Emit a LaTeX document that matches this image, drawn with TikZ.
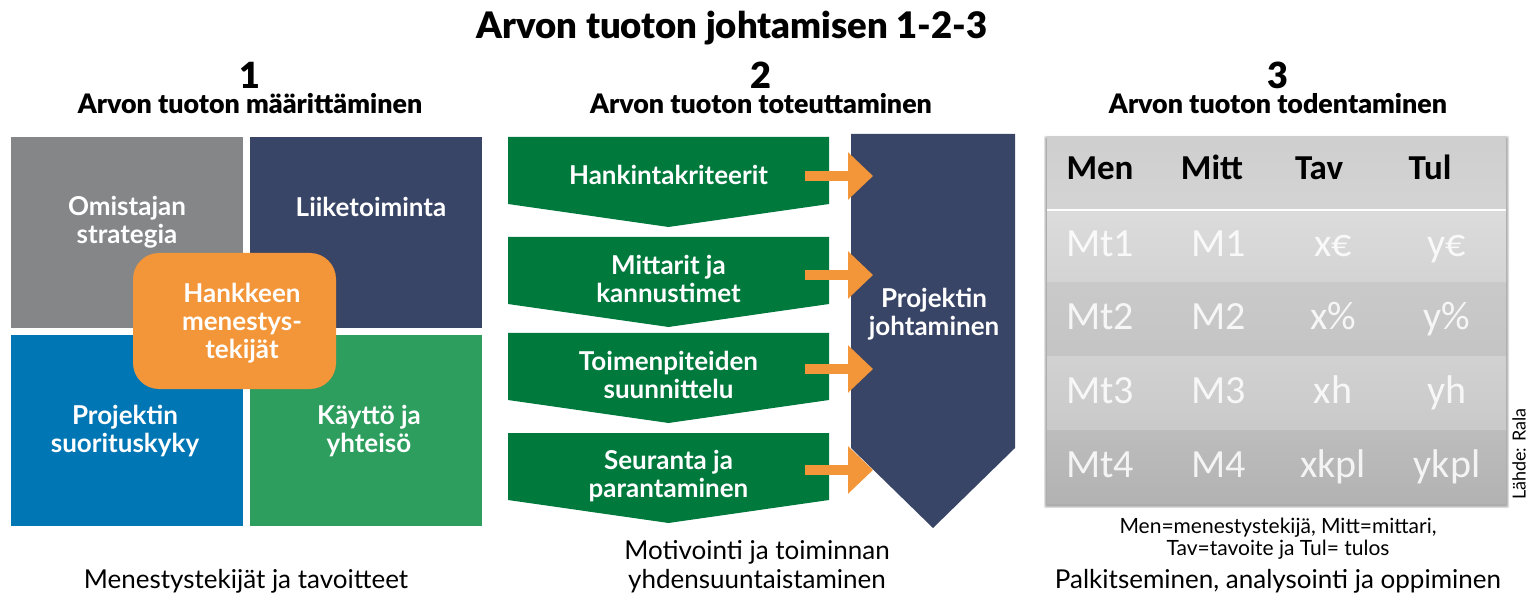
\documentclass[tikz,border=0pt]{standalone}
\usepackage{fontspec}
\usepackage{xcolor}
\setmainfont{Lato}
\newfontfamily\heavyfont{Lato Black}
\newfontfamily\tablefont{Carlito}
\usetikzlibrary{
    positioning,
    calc,
    arrows.meta
}
\definecolor{quadgray}{HTML}{858688}
\definecolor{quadnavy}{HTML}{394566}
\definecolor{quadblue}{HTML}{0076B5}
\definecolor{quadgreen}{HTML}{2E9E5F}
\definecolor{chevgreen}{HTML}{00793D}
\definecolor{flow}{HTML}{F39539}
\tikzset{
  title/.style = {
      font=\fontsize{36.5}{40}\selectfont\heavyfont
  },
  number/.style = {
      inner sep=0pt,
      font=\fontsize{36}{36}\selectfont\heavyfont
  },
  heading/.style = {
      inner sep=0pt,
      font=\fontsize{26.8}{28}\selectfont\heavyfont
  },
  caption/.style = {
      align=center,
      font=\fontsize{26}{29}\selectfont
  },
  note/.style = {
      align=center,
      font=\fontsize{21}{22}\selectfont
  },
  boxtext/.style = {
      align=center,
      text=white,
      font=\fontsize{26}{28}\selectfont\bfseries
  },
  flowline/.style = {
      draw=flow,
      line width=10pt,
      -{Triangle[length=25pt,width=46pt]}
  },
  headcell/.style = {
      anchor=base,
      font=\fontsize{35}{35}\selectfont\tablefont\bfseries
  },
  cell/.style = {
      anchor=base,
      text=white,
      text opacity=.85,
      font=\fontsize{40}{40}\selectfont\tablefont
  }
}
\newcommand{\chevron}[4]{%
  \fill[chevgreen] (508,#2) -- (829,#2) -- (829,#2+67) -- (668.5,#2+90)
    -- (508,#2+67) -- cycle;
  \node[boxtext] (#1) at (668.5,#3) {#4};
}
\begin{document}
\begin{tikzpicture}[x=1pt,y=-1pt]
    \useasboundingbox (0,0) rectangle (1536,601);
    % Headings
    \node[title] (title) at (732,28) {Arvon tuoton johtamisen 1-2-3};
    \node[number] (num1) at (250,75) {1};
    \node[heading] (head1) at (250,104) {Arvon tuoton määrittäminen};
    \node[number] (num2) at (761,75) {2};
    \node[heading] (head2) at (761,104) {Arvon tuoton toteuttaminen};
    \node[number] (num3) at (1278,75) {3};
    \node[heading] (head3) at (1278,104) {Arvon tuoton todentaminen};
    % Quadrants
    \fill[quadgray] (11,137) rectangle (243,328);
    \fill[quadnavy] (250,137) rectangle (482,328);
    \fill[quadblue] (11,335) rectangle (243,526);
    \fill[quadgreen] (250,335) rectangle (482,526);
    \fill[flow, rounded corners=26pt] (133,253) rectangle (336,389);
    \node[boxtext] (owner) at (127,222) {Omistajan\\strategia};
    \node[boxtext] (business) at (371,207) {Liiketoiminta};
    \node[boxtext] (perf) at (125,431) {Projektin\\suorituskyky};
    \node[boxtext] (usage) at (369,431) {Käyttö ja\\yhteisö};
    \node[boxtext] (success) at (242,323) {Hankkeen\\menestys-\\tekijät};
    % Project column
    \fill[quadnavy] (851,134) -- (1015,134) -- (1015,448) -- (933,528) -- (851,448) -- cycle;
    \node[boxtext] (project) at (934,314) {Projektin\\johtaminen};
    % Chevrons
    \chevron{crit}{137}{175}{Hankintakriteerit}
    \chevron{meter}{237}{279}{Mittarit ja\\kannustimet}
    \chevron{plan}{333}{375}{Toimenpiteiden\\suunnittelu}
    \chevron{track}{433}{476}{Seuranta ja\\parantaminen}
    % Arrows
    \foreach \nm/\ypos in {crit/176, meter/275, plan/369, track/470} {
        \coordinate (\nm start) at (805,\ypos);
        \coordinate (\nm end) at (873,\ypos);
        \draw[flowline] (\nm start) -- (\nm end);
    }
    % Table
    \foreach \grow in {1,...,3} {
        \fill[black, opacity=.12, rounded corners=1pt]
            (1047-\grow,137-\grow+2) rectangle (1506+\grow,503+\grow+2);
    }
    \shade[top color=black!19, bottom color=black!17] (1047,137) rectangle (1506,209);
    \shade[top color=black!14, bottom color=black!17] (1047,211) rectangle (1506,283);
    \shade[top color=black!21, bottom color=black!23] (1047,283) rectangle (1506,357);
    \shade[top color=black!18, bottom color=black!21] (1047,357) rectangle (1506,430);
    \shade[top color=black!26, bottom color=black!30] (1047,430) rectangle (1506,503);
    \fill[white] (1047,209) rectangle (1506,211);
    \foreach \txt/\xpos in {Men/1100, Mitt/1212, Tav/1319, Tul/1430} {
        \node[headcell] (h\txt) at (\xpos,180) {\txt};
    }
    \foreach \row/\ypos/\cb/\cc/\cd/\ce in {1/257/Mt1/M1/x€/y€, 2/330/Mt2/M2/x\%/y\%,
                                            3/403/Mt3/M3/xh/yh, 4/477/Mt4/M4/xkpl/ykpl} {
        \node[cell] (a\row) at (1100,\ypos) {\cb};
        \node[cell] (b\row) at (1219,\ypos) {\cc};
        \node[cell] (c\row) at (1333,\ypos) {\cd};
        \node[cell] (d\row) at (1447,\ypos) {\ce};
    }
    \node[rotate=90, font=\fontsize{18}{18}\selectfont] (source) at (1519,454) {Lähde: Rala};
    % Captions
    \node[note] (legend) at (1278,539) {Men=menestystekijä, Mitt=mittari,\\Tav=tavoite ja Tul= tulos};
    \node[caption] (cap1) at (246,581) {Menestystekijät ja tavoitteet};
    \node[caption] (cap2) at (757,567) {Motivointi ja toiminnan\\yhdensuuntaistaminen};
    \node[caption] (cap3) at (1278,581) {Palkitseminen, analysointi ja oppiminen};
\end{tikzpicture}
\end{document}
